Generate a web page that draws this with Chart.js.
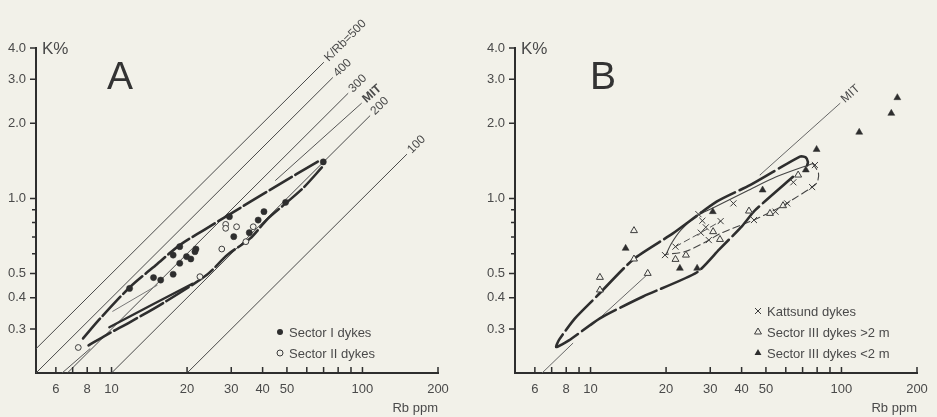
<!DOCTYPE html>
<html>
<head>
<meta charset="utf-8">
<title>K vs Rb</title>
<script src="https://cdn.jsdelivr.net/npm/chart.js@4.4.1/dist/chart.umd.min.js"></script>
<style>
  html, body { margin: 0; padding: 0; background: #f2f1e9; }
  #wrap { position: relative; width: 937px; height: 417px; overflow: hidden; }
  canvas { position: absolute; top: 0; }
  #ca { left: 0; }
  #cb { left: 470px; }
</style>
</head>
<body>
<div id="wrap">
  <canvas id="ca" width="470" height="417"></canvas>
  <canvas id="cb" width="467" height="417"></canvas>
</div>
<script>
// log-log axes: Rb ppm (x) vs K % (y)
const xTickVals = [6, 7, 8, 9, 10, 20, 30, 40, 50, 60, 70, 80, 90, 100, 200];
const xTickLabels = [6, 8, 10, 20, 30, 40, 50, 100, 200];
const yTickVals = [0.3, 0.4, 0.5, 0.6, 0.7, 0.8, 0.9, 1, 2, 3, 4];
const yTickLabels = [0.3, 0.4, 0.5, 1, 2, 3, 4];

// ---- panel A ----
const sec1Rb = [11.8, 14.7, 15.7, 17.6, 18.7, 17.6, 18.7, 19.9, 20.7, 21.7, 21.5, 29.5, 30.7, 35.4, 38.4, 40.5, 49.4, 69.8];
const sec1K  = [0.436, 0.482, 0.471, 0.497, 0.55, 0.593, 0.641, 0.585, 0.572, 0.627, 0.612, 0.845, 0.703, 0.729, 0.819, 0.885, 0.964, 1.40];
const sec2Rb = [7.37, 22.5, 27.5, 28.5, 28.5, 31.5, 34.3, 36.7];
const sec2K  = [0.253, 0.486, 0.627, 0.787, 0.759, 0.77, 0.671, 0.77];

// hand drawn envelopes
const envAUpRb = [7.7, 9.0, 11.8, 15.0, 18.7, 23.5, 29.1, 44.0, 67.6];
const envAUpK  = [0.275, 0.33, 0.44, 0.54, 0.65, 0.75, 0.855, 1.10, 1.42];
const envALoRb = [68.9, 58.0, 49.4, 42.0, 35.6, 29.0, 24.0, 16.0, 12.0, 9.6, 8.1];
const envALoK  = [1.33, 1.10, 0.955, 0.83, 0.69, 0.595, 0.495, 0.38, 0.322, 0.285, 0.258];
const wedgeARb = [9.8, 14.5, 21.0];
const wedgeAK  = [0.305, 0.375, 0.455];
const innerARb = [10.1, 15.2];
const innerAK  = [0.353, 0.449];

// K/Rb ratio lines
const ratioNames = ['K/Rb=500', '400', '300', '200', '100'];
const ratioRb0 = [5, 5, 6.67, 10, 20];
const ratioK0  = [0.25, 0.2, 0.2, 0.2, 0.2];
const ratioRb1 = [70, 76, 87.5, 107, 150];
const ratioK1  = [3.5, 3.04, 2.63, 2.14, 1.5];

// MIT trend (drawn in pieces)
const mitARb = [6.35, 8.2, null, 45, 99];
const mitAK  = [0.2, 0.25, null, 1.18, 2.4];

// ---- panel B ----
const kattRb = [19.8, 21.8, 26.9, 27.9, 28.8, 27.5, 29.6, 33.0, 37.1, 44.8, 54.6, 60.8, 64.3, 76.4, 78.4];
const kattK  = [0.593, 0.641, 0.865, 0.814, 0.766, 0.729, 0.681, 0.811, 0.955, 0.819, 0.885, 0.955, 1.16, 1.11, 1.36];
const s3bigRb = [10.9, 10.9, 14.9, 14.9, 16.9, 21.8, 24.0, 30.8, 32.8, 42.8, 51.9, 58.5, 67.2];
const s3bigK  = [0.483, 0.43, 0.743, 0.572, 0.501, 0.570, 0.593, 0.736, 0.685, 0.89, 0.871, 0.935, 1.24];
const s3smlRb = [13.8, 22.7, 26.6, 30.7, 48.5, 72.1, 79.6, 117.7, 158, 167];
const s3smlK  = [0.631, 0.525, 0.525, 0.885, 1.08, 1.30, 1.57, 1.84, 2.19, 2.53];

const envBRb = [64.1, 45.2, 40.1, 32.6, 26.5, 16.2, 10.9, 8.2, 7.3, 7.5, 8.67, 10.6, 14.8, 21.3, 31.8, 43.2, 68.3, 72.0, 73.5, 73.0];
const envBK  = [1.22, 0.895, 0.773, 0.625, 0.505, 0.405, 0.331, 0.27, 0.254, 0.272, 0.331, 0.406, 0.57, 0.724, 0.97, 1.13, 1.47, 1.46, 1.40, 1.355];
const innerBUpRb = [20.0, 21.0, 23.0, 26.5, 31.0, 42.0, 55.0, 76.9];
const innerBUpK  = [0.597, 0.66, 0.75, 0.85, 0.92, 1.07, 1.22, 1.38];
const innerBLoRb = [76.9, 81.0, 80.0, 76.4, 64.0, 58.5, 52.0, 44.8, 33.0, 29.6, 24.0, 20.0];
const innerBLoK  = [1.38, 1.26, 1.16, 1.11, 0.99, 0.935, 0.88, 0.82, 0.725, 0.68, 0.614, 0.597];
const centerBRb = [21.8, 27.5, 33.0];
const centerBK  = [0.641, 0.729, 0.811];
const mitBRb = [6.41, 8.5, null, 10.1, 17.0, null, 47.3, 98.6];
const mitBK  = [0.2, 0.263, null, 0.31, 0.50, null, 1.24, 2.4];

const BG = '#f2f1e9';
const INK = '#2e2e2e';
const TXT = '#4a4a4a';
const FONT = '"Liberation Sans", Arial, Helvetica, sans-serif';

const pts = (xs, ys) => xs.map((x, i) => ({ x: x, y: ys[i] }));

function marks(label, xs, ys, style, filled, r) {
  return { label: label, data: pts(xs, ys), pointStyle: style, pointRadius: r,
    backgroundColor: filled ? INK : BG, borderColor: filled ? INK : '#3c3c3c',
    borderWidth: filled ? 0.5 : 1, showLine: false };
}
function curve(xs, ys, width, dash, color, tension) {
  return { data: pts(xs, ys), showLine: true, pointRadius: 0, borderWidth: width,
    borderColor: color || INK, borderDash: dash || [], tension: tension === undefined ? 0.3 : tension,
    borderCapStyle: 'round', spanGaps: false, fill: false };
}

function scales(yWidth) {
  return {
    x: {
      type: 'logarithmic', min: 5, max: 200,
      afterFit: s => { s.height = 44; },
      afterBuildTicks: s => { s.ticks = xTickVals.map(v => ({ value: v })); },
      grid: { display: false, drawTicks: false },
      border: { color: INK, width: 2 },
      ticks: { autoSkip: false, maxRotation: 0, padding: 9, color: TXT, font: { family: FONT, size: 13 },
        callback: v => xTickLabels.includes(v) ? String(v) : '' },
      title: { display: true, text: 'Rb ppm', align: 'end', color: TXT, font: { family: FONT, size: 13 }, padding: { top: 0, bottom: 1 } }
    },
    y: {
      type: 'logarithmic', min: 0.2, max: 4,
      afterFit: s => { s.width = yWidth; },
      afterBuildTicks: s => { s.ticks = yTickVals.map(v => ({ value: v })); },
      grid: { display: false, drawTicks: false },
      border: { color: INK, width: 2 },
      ticks: { autoSkip: false, padding: 10, color: TXT, font: { family: FONT, size: 13 },
        callback: v => yTickLabels.includes(v) ? v.toFixed(1) : '' }
    }
  };
}

function drawMark(ctx, kind, x, y) {
  ctx.save();
  ctx.lineWidth = 1;
  ctx.strokeStyle = '#3c3c3c';
  ctx.fillStyle = INK;
  ctx.beginPath();
  if (kind === 'dot' || kind === 'ring') {
    ctx.arc(x, y, 3, 0, Math.PI * 2);
    if (kind === 'dot') ctx.fill(); else { ctx.fillStyle = BG; ctx.fill(); ctx.stroke(); }
  } else if (kind === 'cross') {
    ctx.moveTo(x - 3, y - 3); ctx.lineTo(x + 3, y + 3);
    ctx.moveTo(x + 3, y - 3); ctx.lineTo(x - 3, y + 3);
    ctx.stroke();
  } else {
    const r = 4;
    ctx.moveTo(x, y - r);
    ctx.lineTo(x + r * 0.866, y + r * 0.5);
    ctx.lineTo(x - r * 0.866, y + r * 0.5);
    ctx.closePath();
    if (kind === 'trif') ctx.fill(); else { ctx.fillStyle = BG; ctx.fill(); ctx.stroke(); }
  }
  ctx.restore();
}

// ticks, big letter, line labels and legend
function decor(opt) {
  return {
    id: 'decor' + opt.letter,
    afterDraw(chart) {
      const { ctx, chartArea: a, scales: { x, y } } = chart;
      ctx.save();
      ctx.strokeStyle = INK;
      ctx.lineWidth = 1.5;
      ctx.beginPath();
      yTickVals.forEach(v => {
        const py = y.getPixelForValue(v);
        const len = yTickLabels.includes(v) ? 6 : 4;
        ctx.moveTo(a.left - len, py); ctx.lineTo(a.left, py);
      });
      xTickVals.forEach(v => {
        const px = x.getPixelForValue(v);
        ctx.moveTo(px, a.bottom); ctx.lineTo(px, a.bottom - 6);
      });
      ctx.stroke();

      ctx.fillStyle = TXT;
      ctx.font = '17px ' + FONT;
      ctx.textBaseline = 'middle';
      ctx.fillText('K%', a.left + 6, y.getPixelForValue(4) + 1);

      ctx.fillStyle = '#333';
      ctx.font = '39px ' + FONT;
      ctx.textBaseline = 'alphabetic';
      ctx.fillText(opt.letter, a.left + opt.letterDx, a.top + 41);

      opt.lineLabels.forEach(l => {
        const x0 = x.getPixelForValue(l.rb0), y0 = y.getPixelForValue(l.k0);
        const x1 = x.getPixelForValue(l.rb1), y1 = y.getPixelForValue(l.k1);
        ctx.save();
        ctx.translate(x1, y1);
        ctx.rotate(Math.atan2(y1 - y0, x1 - x0));
        ctx.fillStyle = TXT;
        ctx.font = (l.bold ? 'bold ' : '') + '12px ' + FONT;
        ctx.textBaseline = 'middle';
        ctx.fillText(l.text, 4, 0);
        ctx.restore();
      });

      ctx.font = '13px ' + FONT;
      ctx.textBaseline = 'middle';
      opt.legend.forEach(it => {
        drawMark(ctx, it.kind, it.x, it.y);
        ctx.fillStyle = TXT;
        ctx.fillText(it.text, it.x + 9, it.y + 1);
      });
      ctx.restore();
    }
  };
}

const common = {
  responsive: false,
  animation: false,
  events: [],
  plugins: { legend: { display: false }, tooltip: { enabled: false } }
};

// ---------- chart A ----------
const dsA = [
  marks('Sector I dykes', sec1Rb, sec1K, 'circle', true, 3.1),
  marks('Sector II dykes', sec2Rb, sec2K, 'circle', false, 2.9),
  curve(envAUpRb, envAUpK, 2.6, [26, 4]),
  curve(envALoRb, envALoK, 2.6, [26, 4]),
  curve(wedgeARb, wedgeAK, 2.4, [], INK, 0.2),
  curve(innerARb, innerAK, 1, [], '#777', 0),
  curve(mitARb, mitAK, 1, [], '#555', 0)
];
ratioNames.forEach((n, i) => {
  dsA.push(curve([ratioRb0[i], ratioRb1[i]], [ratioK0[i], ratioK1[i]], 1, [], '#4a4a4a', 0));
});

const labelsA = ratioNames.map((n, i) => ({ text: n, rb0: ratioRb0[i], k0: ratioK0[i], rb1: ratioRb1[i], k1: ratioK1[i] }));
labelsA.splice(3, 0, { text: 'MIT', bold: true, rb0: mitARb[3], k0: mitAK[3], rb1: mitARb[4], k1: mitAK[4] });

new Chart(document.getElementById('ca'), {
  type: 'scatter',
  data: { datasets: dsA },
  options: Object.assign({}, common, {
    layout: { padding: { left: 0, right: 32, top: 48, bottom: 0 } },
    scales: scales(36)
  }),
  plugins: [decor({
    letter: 'A', letterDx: 71, lineLabels: labelsA,
    legend: [
      { kind: 'dot', text: 'Sector I dykes', x: 280, y: 332 },
      { kind: 'ring', text: 'Sector II dykes', x: 280, y: 353 }
    ]
  })]
});

// ---------- chart B ----------
const dsB = [
  marks('Kattsund dykes', kattRb, kattK, 'crossRot', false, 4.3),
  marks('Sector III dykes >2 m', s3bigRb, s3bigK, 'triangle', false, 4),
  marks('Sector III dykes <2 m', s3smlRb, s3smlK, 'triangle', true, 4),
  curve(envBRb, envBK, 2.6, [40, 5], INK, 0.2),
  curve(innerBUpRb, innerBUpK, 1.1, [], '#444'),
  curve(innerBLoRb, innerBLoK, 1.1, [7, 4], '#444'),
  curve(centerBRb, centerBK, 1, [6, 4], '#555', 0),
  curve(mitBRb, mitBK, 1, [], '#666', 0)
];

new Chart(document.getElementById('cb'), {
  type: 'scatter',
  data: { datasets: dsB },
  options: Object.assign({}, common, {
    layout: { padding: { left: 0, right: 20, top: 48, bottom: 0 } },
    scales: scales(45)
  }),
  plugins: [decor({
    letter: 'B', letterDx: 75,
    lineLabels: [{ text: 'MIT', rb0: mitBRb[6], k0: mitBK[6], rb1: mitBRb[7], k1: mitBK[7] }],
    legend: [
      { kind: 'cross', text: 'Kattsund dykes', x: 288, y: 311 },
      { kind: 'tri', text: 'Sector III dykes >2 m', x: 288, y: 332 },
      { kind: 'trif', text: 'Sector III dykes <2 m', x: 288, y: 353 }
    ]
  })]
});
</script>
</body>
</html>
